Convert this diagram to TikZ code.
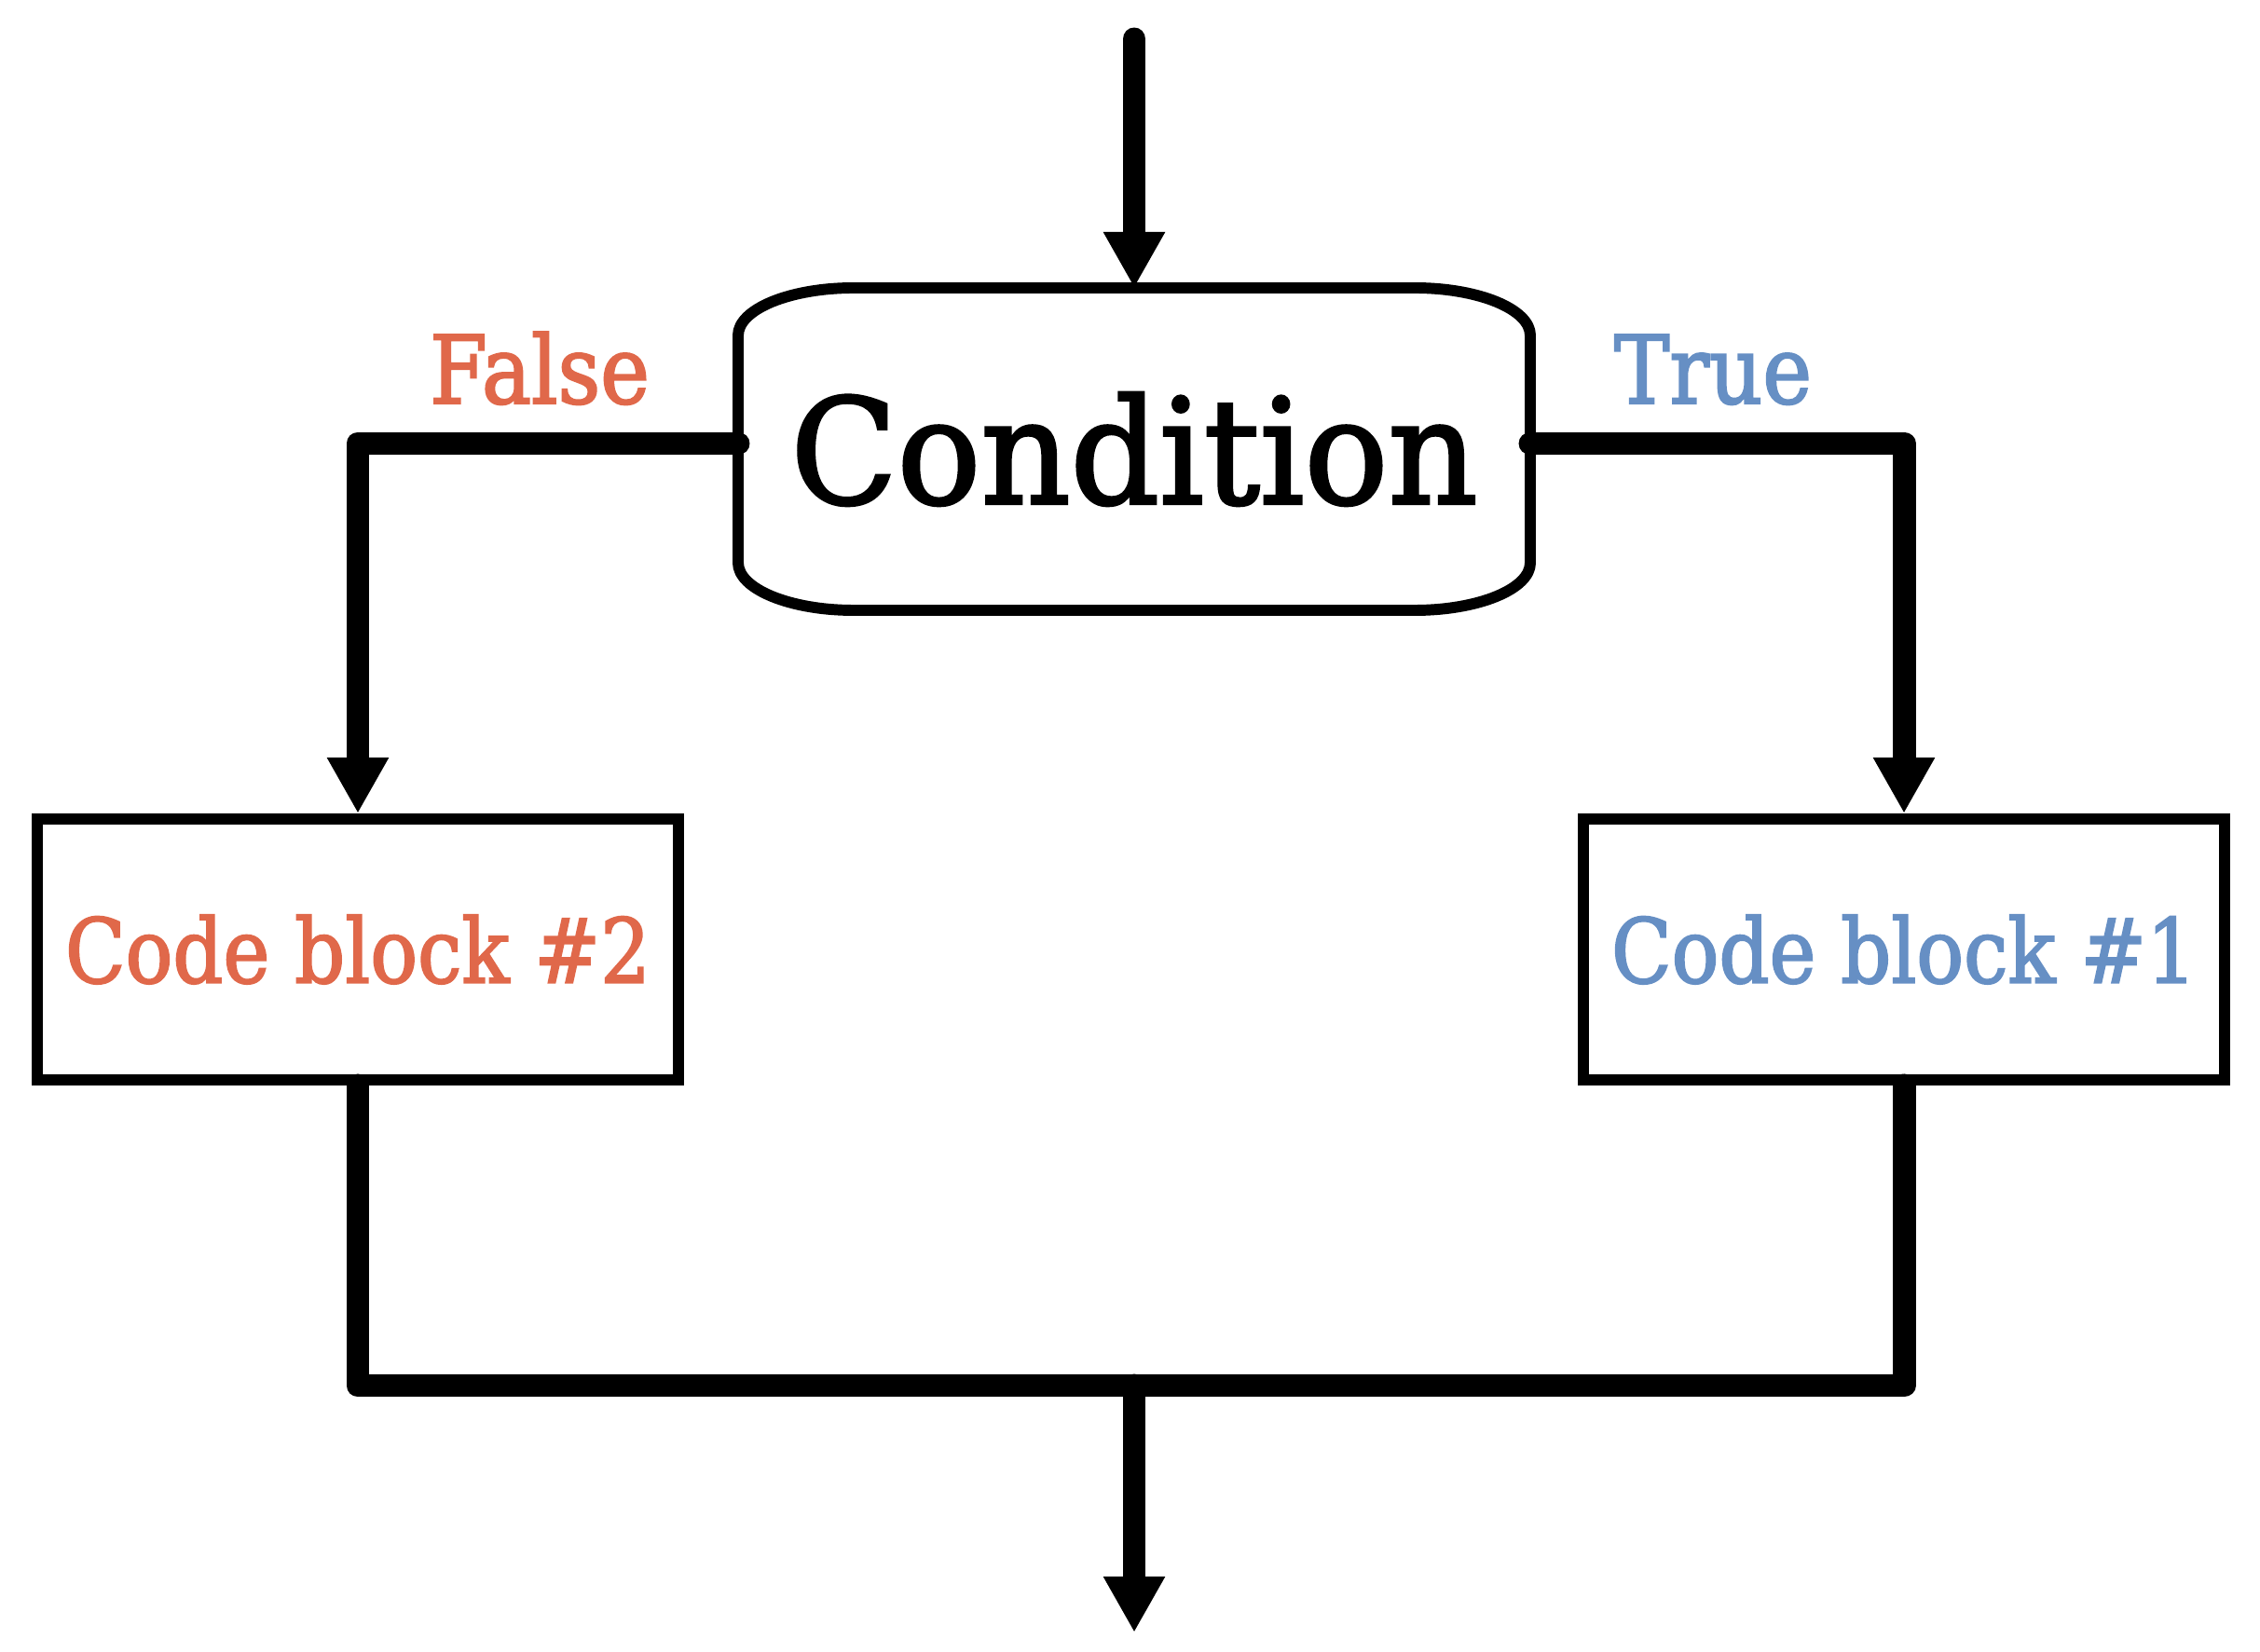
\documentclass[tikz,border=0pt]{standalone}
\usepackage{fontspec}
\setmainfont{DejaVu Serif}[FakeStretch=0.88, FakeBold=2]
\usetikzlibrary{arrows.meta}
\definecolor{falsecol}{HTML}{E0684A}
\definecolor{truecol}{HTML}{668FC4}

\begin{document}
\begin{tikzpicture}[
  flow/.style={line width=7.1pt, line cap=round, line join=round},
  arrow/.style={flow, -{Triangle[length=0.6cm, width=0.62cm]}},
  block/.style={rectangle, draw, line width=3.4pt, minimum width=6.88cm, minimum height=2.8cm, inner sep=0pt, font=\fontsize{27.3}{30}\selectfont},
  cond/.style={rectangle, inner sep=0pt, outer sep=0pt, minimum width=8.5cm, minimum height=3.46cm, font=\addfontfeature{FakeStretch=0.95}\fontsize{44.7}{50}\selectfont},
  branch/.style={anchor=base, font=\fontsize{28.8}{32}\selectfont}]

\useasboundingbox (0,0) rectangle (24.25,17.72);

% decision
\node[cond] (cond) at (12.17,12.90) {Condition};
\draw[line width=3.4pt, line join=round]
      ([xshift=1.24cm]cond.north west) -- ([xshift=-1.24cm]cond.north east)
      arc[start angle=90, end angle=0, x radius=1.24cm, y radius=0.51cm]
      -- ([yshift=0.51cm]cond.south east)
      arc[start angle=0, end angle=-90, x radius=1.24cm, y radius=0.51cm]
      -- ([xshift=1.24cm]cond.south west)
      arc[start angle=270, end angle=180, x radius=1.24cm, y radius=0.51cm]
      -- ([yshift=-0.51cm]cond.north west)
      arc[start angle=180, end angle=90, x radius=1.24cm, y radius=0.51cm]
      -- cycle;

\node[branch, text=falsecol] (false) at (5.79,13.39) {False};
\node[branch, text=truecol] (true) at (18.38,13.39) {True};

% the two blocks
\node[block, text=falsecol] (cb2) at (3.84,7.53) {Code block \#2};
\node[block, text=truecol] (cb1) at (20.43,7.53) {Code block \#1};

\coordinate (top) at (12.17,17.30);
\coordinate (joinL) at (3.84,2.85);
\coordinate (joinR) at (20.43,2.85);
\coordinate (merge) at (12.17,2.85);
\coordinate (exit) at (12.17,0.20);

\draw[arrow] (top) -- (cond.north);
\draw[arrow] ([yshift=0.06cm]cond.west) -| (cb2.north);
\draw[arrow] ([yshift=0.06cm]cond.east) -| (cb1.north);
\draw[flow] (cb2.south) -- (joinL) -- (joinR) -- (cb1.south);
\draw[arrow] (merge) -- (exit);
\end{tikzpicture}
\end{document}
